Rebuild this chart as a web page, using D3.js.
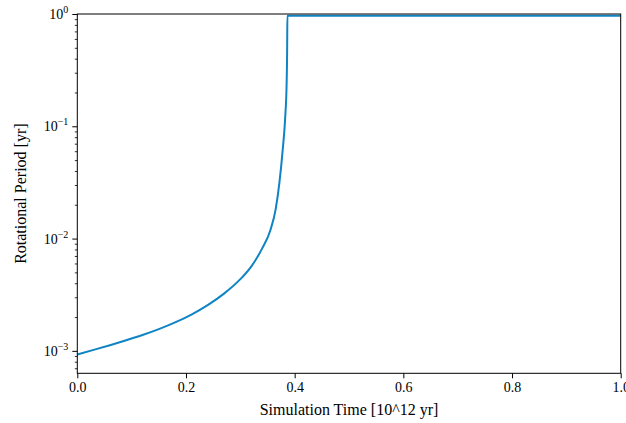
<!DOCTYPE html>
<html>
<head>
<meta charset="utf-8">
<script src="https://cdn.jsdelivr.net/npm/d3@7"></script>
<style>
  body { margin: 0; background: #fff; }
  svg text { font-family: "Liberation Serif", "Times New Roman", serif; fill: #000; }
</style>
</head>
<body>
<svg id="drawing_region"></svg>
<script>
// values
const times   = [0, 0.03, 0.06, 0.09, 0.12, 0.15, 0.18, 0.21, 0.24, 0.27, 0.30, 0.32,
                 0.34, 0.355, 0.365, 0.372, 0.378, 0.3823, 0.3853, 0.3862, 0.3866, 1.0];
const periods = [9.29e-4, 1.02e-3, 1.123e-3, 1.242e-3, 1.382e-3, 1.56e-3, 1.791e-3, 2.106e-3,
                 2.555e-3, 3.232e-3, 4.349e-3, 5.63e-3, 8.137e-3, 0.01175, 0.0182, 0.0316,
                 0.0617, 0.1135, 0.25, 0.5, 0.965, 0.965];
const xTicks = [0.0, 0.2, 0.4, 0.6, 0.8, 1.0];
const yDecades = [-3, -2, -1, 0];

const config = {
    width: 626,
    height: 423,
    margin: { top: 14, right: 5.3, bottom: 49.7, left: 77.3 }
};

const svg = d3.select('#drawing_region')
    .attr('width', config.width)
    .attr('height', config.height);

const inner_width = config.width - config.margin.left - config.margin.right;
const inner_height = config.height - config.margin.top - config.margin.bottom;

const chart = svg.append('g')
    .attr('transform', `translate(${config.margin.left}, ${config.margin.top})`);

const xscale = d3.scaleLinear().domain([0, 1]).range([0, inner_width]);
const yscale = d3.scaleLog().domain([Math.pow(10, -3.2), 1]).range([inner_height, 0]);

// minor ticks for the log axis
const minorTicks = [];
[-4, -3, -2, -1].forEach(e => {
    for (let k = 2; k <= 9; k++) {
        const v = k * Math.pow(10, e);
        if (v >= yscale.domain()[0] && v <= 1) minorTicks.push(v);
    }
});

// x axis
const xaxis = d3.axisBottom(xscale)
    .tickValues(xTicks)
    .tickSize(5)
    .tickPadding(4)
    .tickFormat(d3.format('.1f'));

const xg = chart.append('g')
    .attr('transform', `translate(0, ${inner_height})`)
    .call(xaxis);
xg.select('.domain').remove();
xg.selectAll('text').attr('font-size', '14px').attr('font-family', null);
xg.selectAll('line').attr('stroke-width', 1);

// y axis major
const yaxis = d3.axisLeft(yscale)
    .tickValues(yDecades.map(e => Math.pow(10, e)))
    .tickSize(5)
    .tickFormat('');
const yg = chart.append('g').call(yaxis);
yg.select('.domain').remove();

// y axis minor
const yminor = d3.axisLeft(yscale)
    .tickValues(minorTicks)
    .tickSize(2.5)
    .tickFormat('');
const ymg = chart.append('g').call(yminor);
ymg.select('.domain').remove();
ymg.selectAll('line').attr('stroke-width', 0.8);

// y tick labels as 10^e
yDecades.forEach(e => {
    const t = chart.append('text')
        .attr('x', -9)
        .attr('y', yscale(Math.pow(10, e)) + 5)
        .attr('text-anchor', 'end')
        .attr('font-size', '14px');
    t.append('tspan').text('10');
    t.append('tspan')
        .attr('dy', -6)
        .attr('font-size', '10px')
        .text(e === 0 ? '0' : '\u2212' + Math.abs(e));
});

// line
const line = d3.line()
    .x((d, i) => xscale(times[i]))
    .y((d, i) => yscale(periods[i]))
    .curve(d3.curveMonotoneX);

chart.append('path')
    .datum(periods)
    .attr('d', line)
    .attr('fill', 'none')
    .attr('stroke', '#0f84c4')
    .attr('stroke-width', 2);

// frame
chart.append('rect')
    .attr('x', 0).attr('y', 0)
    .attr('width', inner_width)
    .attr('height', inner_height)
    .attr('fill', 'none')
    .attr('stroke', '#000')
    .attr('stroke-width', 1);

// axis labels
svg.append('text')
    .attr('x', config.margin.left + inner_width / 2)
    .attr('y', 415)
    .attr('text-anchor', 'middle')
    .attr('font-size', '16px')
    .text('Simulation Time [10^12 yr]');

svg.append('text')
    .attr('transform', `translate(26, ${config.margin.top + inner_height / 2}) rotate(-90)`)
    .attr('text-anchor', 'middle')
    .attr('font-size', '16px')
    .text('Rotational Period [yr]');
</script>
</body>
</html>
